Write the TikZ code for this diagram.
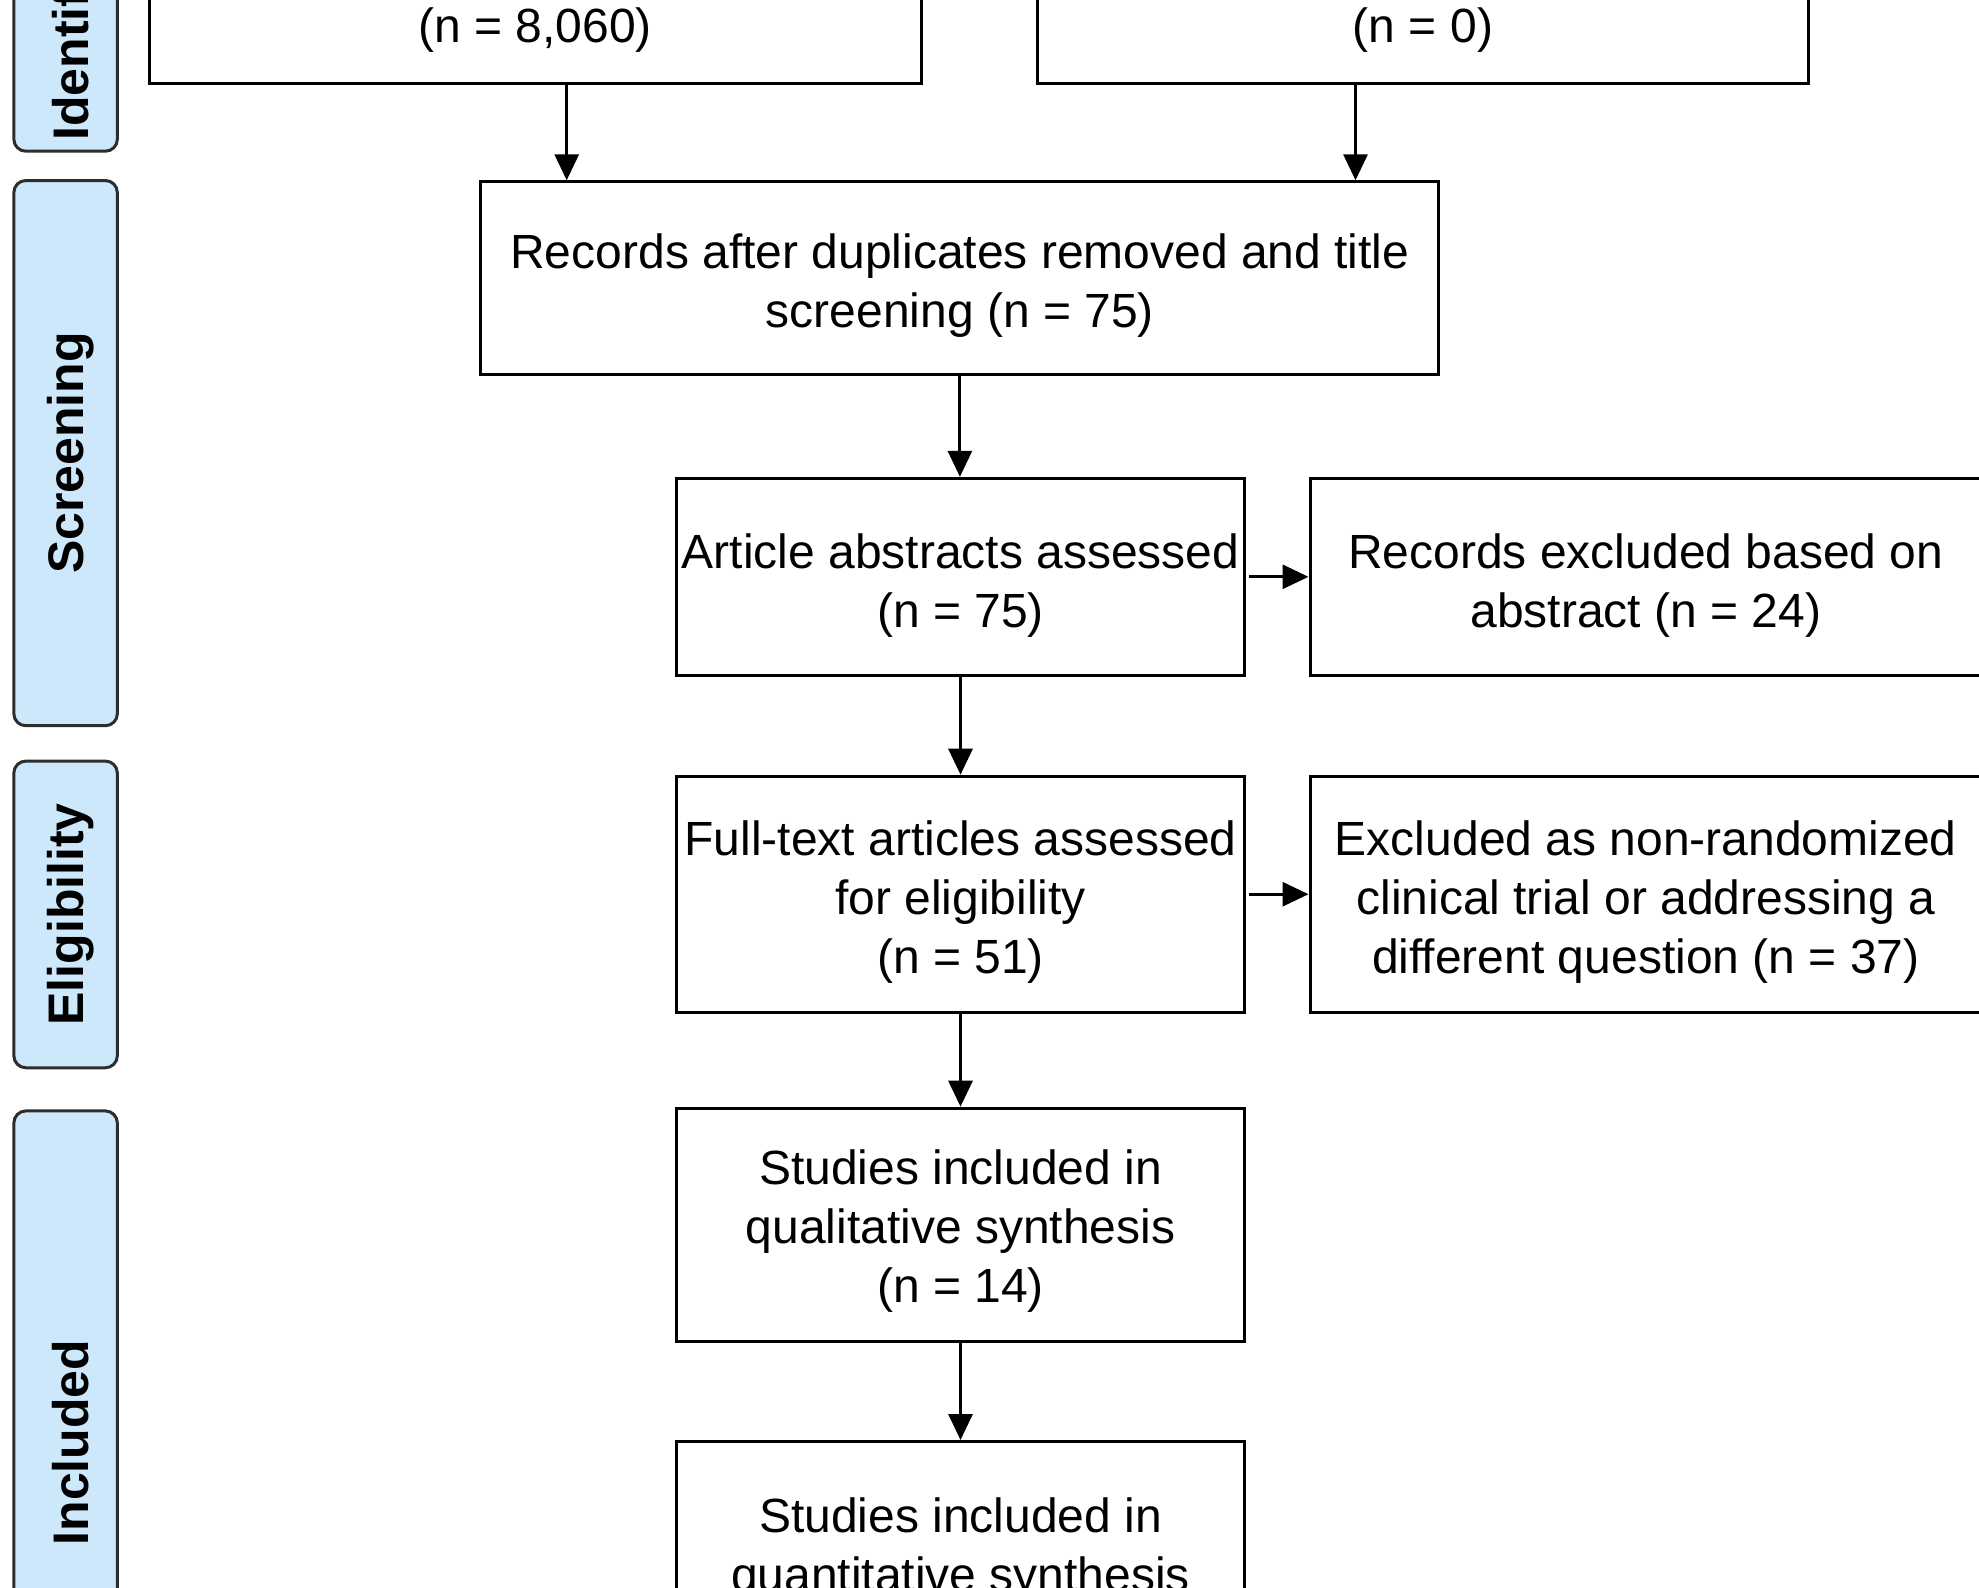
\documentclass[tikz,border=0pt]{standalone}
\usepackage{fontspec}
\setmainfont{Liberation Sans}
\usetikzlibrary{arrows.meta}
\definecolor{lanefill}{RGB}{205,232,250}
\definecolor{laneline}{RGB}{45,45,45}
\begin{document}
\begin{tikzpicture}[x=0.5pt,y=-0.5pt,
  box/.style={draw=black, line width=1.5pt, inner sep=1pt},
  txt/.style={inner sep=0pt, align=center, font=\fontsize{24pt}{29.5pt}\selectfont},
  lane/.style={draw=laneline, fill=lanefill, line width=1.5pt, rounded corners=6pt,
    minimum width=51.75pt, inner sep=0pt},
  lanetxt/.style={rotate=90, inner sep=0pt, font=\fontsize{25pt}{30pt}\selectfont\bfseries},
  arr/.style={-{Triangle[length=13pt,width=12pt]}, line width=1.5pt}
]
\useasboundingbox (0,0) rectangle (1979,1587);
\clip (0,0) rectangle (1979,1587);
\fill[white] (0,0) rectangle (1979,1587);

% lanes
\node[lane, minimum height=200pt, anchor=south] (L1) at (65.6,152.7) {};
\node[lanetxt, anchor=west] (L1t) at (70.6,141) {Identification};
\node[lane, minimum height=272.6pt] (L2) at (65.6,453.1) {};
\node[lanetxt] (L2t) at (70.6,453.1) {Screening};
\node[lane, minimum height=153.35pt] (L3) at (65.6,914.4) {};
\node[lanetxt] (L3t) at (70.6,914.4) {Eligibility};
\node[lane, minimum height=333.2pt, anchor=north] (L4) at (65.6,1109.4) {};
\node[lanetxt] (L4t) at (70.6,1442.6) {Included};

% boxes
\node[box, minimum width=386pt, minimum height=150pt, anchor=south] (A) at (535,84.6) {};
\node[txt] (At) at (535,30.3) {(n = 8,060)};
\node[box, minimum width=385.5pt, minimum height=150pt, anchor=south] (B) at (1423,84.6) {};
\node[txt] (Bt) at (1423,30.3) {(n = 0)};

\node[box, minimum width=479pt, minimum height=96.5pt] (C) at (959.9,278.3) {};
\node[txt] (Ct) at ([yshift=-3.8pt]C.center)
  {Records after duplicates removed and title\\screening (n = 75)};
\node[box, minimum width=284pt, minimum height=98.5pt] (D) at (960.5,576.8) {};
\node[txt] (Dt) at ([yshift=-4.2pt]D.center) {Article abstracts assessed\\(n = 75)};
\node[box, minimum width=335.8pt, minimum height=98.5pt] (E) at (1645.8,576.8) {};
\node[txt] (Et) at ([yshift=-4.2pt]E.center) {Records excluded based on\\abstract (n = 24)};
\node[box, minimum width=284pt, minimum height=118pt] (F) at (960.5,894.2) {};
\node[txt] (Ft) at ([yshift=-3.8pt]F.center)
  {Full-text articles assessed\\for eligibility\\(n = 51)};
\node[box, minimum width=335.8pt, minimum height=118pt] (G) at (1645.8,894.2) {};
\node[txt] (Gt) at ([yshift=-3.8pt]G.center)
  {Excluded as non-randomized\\clinical trial or addressing a\\different question (n = 37)};
\node[box, minimum width=284pt, minimum height=116.75pt] (H) at (960.5,1224.9) {};
\node[txt] (Ht) at ([yshift=-3.2pt]H.center)
  {Studies included in\\qualitative synthesis\\(n = 14)};
\node[box, minimum width=284pt, minimum height=102.8pt, anchor=north] (I) at (960.5,1440) {};
\node[txt] (It) at ([yshift=-2.5pt]I.center) {Studies included in\\quantitative synthesis};

% arrows
\draw[arr] ([xshift=15.85pt]A.south) -- ([xshift=15.85pt]A.south |- C.north);
\draw[arr] ([xshift=-33.75pt]B.south) -- ([xshift=-33.75pt]B.south |- C.north);
\draw[arr] (C.south) -- (C.south |- D.north);
\draw[arr] ([xshift=1.5pt]D.east) -- (E.west);
\draw[arr] (D.south) -- (F.north);
\draw[arr] ([xshift=1.5pt]F.east) -- (G.west);
\draw[arr] (F.south) -- (H.north);
\draw[arr] (H.south) -- (I.north);
\end{tikzpicture}
\end{document}
